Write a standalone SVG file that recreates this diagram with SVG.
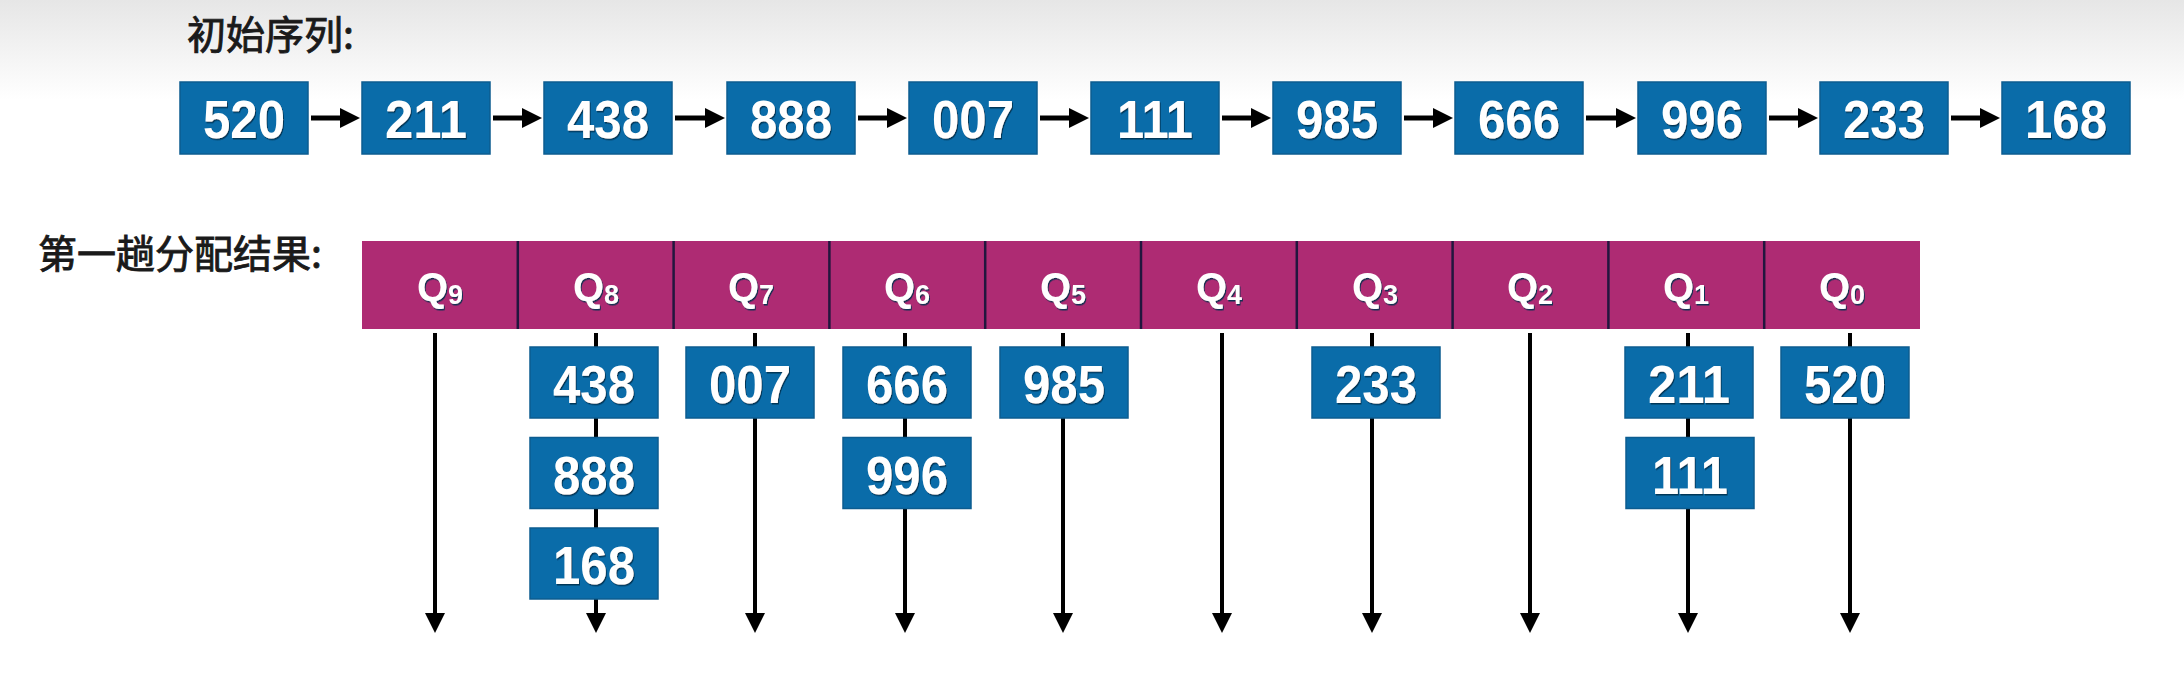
<svg xmlns="http://www.w3.org/2000/svg" width="2184" height="682" viewBox="0 0 2184 682">
<defs>
<linearGradient id="bg" x1="0" y1="0" x2="0" y2="1">
<stop offset="0" stop-color="#e6e6e6"/>
<stop offset="1" stop-color="#ffffff"/>
</linearGradient>
<marker id="ah" markerUnits="userSpaceOnUse" markerWidth="20" markerHeight="20" refX="2" refY="10" orient="auto">
<path d="M0,0 L20,10 L0,20 Z" fill="#000"/>
</marker>
<filter id="sh" x="-10%" y="-10%" width="130%" height="130%">
<feDropShadow dx="1" dy="1.5" stdDeviation="0.6" flood-color="#06304f" flood-opacity="0.9"/>
</filter>
<style>
.lbl{font-family:"Noto Sans CJK SC","Noto Sans",sans-serif;font-size:39px;font-weight:normal;fill:#1a1a1a;stroke:#1a1a1a;stroke-width:0.9;}
.box{fill:#0A6CA9;stroke:#0C5C90;stroke-width:1.5;}
.num{font-family:"Liberation Sans",Arial,sans-serif;font-size:54px;font-weight:bold;fill:#fff;text-anchor:middle;filter:url(#sh);}
.q{fill:#AE2B73;}
.div{stroke:#22163e;stroke-width:2.5;}
.ql{font-family:"Liberation Sans",Arial,sans-serif;font-size:40px;font-weight:bold;fill:#fff;text-anchor:middle;filter:url(#sh);}
.sub{font-size:27px;}
.hc{stroke:#000;stroke-width:5;fill:none;marker-end:url(#ah);}
.vc{stroke:#000;stroke-width:4;fill:none;marker-end:url(#ah);}
</style>
</defs>
<rect x="0" y="0" width="2184" height="682" fill="#fff"/>
<rect x="0" y="0" width="2184" height="100" fill="url(#bg)"/>

<text id="title1" class="lbl" x="187" y="49">初始序列:</text>
<text id="title2" class="lbl" x="38" y="268">第一趟分配结果:</text>

<g id="connectors">
<line class="hc" x1="311" y1="118" x2="342" y2="118"/>
<line class="hc" x1="493" y1="118" x2="524" y2="118"/>
<line class="hc" x1="675" y1="118" x2="707" y2="118"/>
<line class="hc" x1="858" y1="118" x2="889" y2="118"/>
<line class="hc" x1="1040" y1="118" x2="1071" y2="118"/>
<line class="hc" x1="1222" y1="118" x2="1253" y2="118"/>
<line class="hc" x1="1404" y1="118" x2="1435" y2="118"/>
<line class="hc" x1="1586" y1="118" x2="1618" y2="118"/>
<line class="hc" x1="1769" y1="118" x2="1800" y2="118"/>
<line class="hc" x1="1951" y1="118" x2="1982" y2="118"/>
<line class="vc" x1="435" y1="333" x2="435" y2="615"/>
<line class="vc" x1="596" y1="333" x2="596" y2="615"/>
<line class="vc" x1="755" y1="333" x2="755" y2="615"/>
<line class="vc" x1="905" y1="333" x2="905" y2="615"/>
<line class="vc" x1="1063" y1="333" x2="1063" y2="615"/>
<line class="vc" x1="1222" y1="333" x2="1222" y2="615"/>
<line class="vc" x1="1372" y1="333" x2="1372" y2="615"/>
<line class="vc" x1="1530" y1="333" x2="1530" y2="615"/>
<line class="vc" x1="1688" y1="333" x2="1688" y2="615"/>
<line class="vc" x1="1850" y1="333" x2="1850" y2="615"/>
</g>

<g id="seq">
<g id="s520"><rect class="box" x="180" y="82" width="128" height="72"/><text class="num" x="244" y="138" textLength="82" lengthAdjust="spacingAndGlyphs">520</text></g>
<g id="s211"><rect class="box" x="362" y="82" width="128" height="72"/><text class="num" x="426" y="138" textLength="82" lengthAdjust="spacingAndGlyphs">211</text></g>
<g id="s438"><rect class="box" x="544" y="82" width="128" height="72"/><text class="num" x="608" y="138" textLength="82" lengthAdjust="spacingAndGlyphs">438</text></g>
<g id="s888"><rect class="box" x="727" y="82" width="128" height="72"/><text class="num" x="791" y="138" textLength="82" lengthAdjust="spacingAndGlyphs">888</text></g>
<g id="s007"><rect class="box" x="909" y="82" width="128" height="72"/><text class="num" x="973" y="138" textLength="82" lengthAdjust="spacingAndGlyphs">007</text></g>
<g id="s111"><rect class="box" x="1091" y="82" width="128" height="72"/><text class="num" x="1155" y="138" textLength="76" lengthAdjust="spacingAndGlyphs">111</text></g>
<g id="s985"><rect class="box" x="1273" y="82" width="128" height="72"/><text class="num" x="1337" y="138" textLength="82" lengthAdjust="spacingAndGlyphs">985</text></g>
<g id="s666"><rect class="box" x="1455" y="82" width="128" height="72"/><text class="num" x="1519" y="138" textLength="82" lengthAdjust="spacingAndGlyphs">666</text></g>
<g id="s996"><rect class="box" x="1638" y="82" width="128" height="72"/><text class="num" x="1702" y="138" textLength="82" lengthAdjust="spacingAndGlyphs">996</text></g>
<g id="s233"><rect class="box" x="1820" y="82" width="128" height="72"/><text class="num" x="1884" y="138" textLength="82" lengthAdjust="spacingAndGlyphs">233</text></g>
<g id="s168"><rect class="box" x="2002" y="82" width="128" height="72"/><text class="num" x="2066" y="138" textLength="82" lengthAdjust="spacingAndGlyphs">168</text></g>
</g>

<g id="queues">
<rect class="q" x="362" y="241" width="1558" height="88"/>
<line class="div" x1="517.8" y1="241" x2="517.8" y2="329"/>
<line class="div" x1="673.6" y1="241" x2="673.6" y2="329"/>
<line class="div" x1="829.4" y1="241" x2="829.4" y2="329"/>
<line class="div" x1="985.2" y1="241" x2="985.2" y2="329"/>
<line class="div" x1="1141" y1="241" x2="1141" y2="329"/>
<line class="div" x1="1296.8" y1="241" x2="1296.8" y2="329"/>
<line class="div" x1="1452.6" y1="241" x2="1452.6" y2="329"/>
<line class="div" x1="1608.4" y1="241" x2="1608.4" y2="329"/>
<line class="div" x1="1764.2" y1="241" x2="1764.2" y2="329"/>
<g id="Q9"><text class="ql" x="440" y="301">Q<tspan class="sub" dy="3">9</tspan></text></g>
<g id="Q8"><text class="ql" x="596" y="301">Q<tspan class="sub" dy="3">8</tspan></text></g>
<g id="Q7"><text class="ql" x="751" y="301">Q<tspan class="sub" dy="3">7</tspan></text></g>
<g id="Q6"><text class="ql" x="907" y="301">Q<tspan class="sub" dy="3">6</tspan></text></g>
<g id="Q5"><text class="ql" x="1063" y="301">Q<tspan class="sub" dy="3">5</tspan></text></g>
<g id="Q4"><text class="ql" x="1219" y="301">Q<tspan class="sub" dy="3">4</tspan></text></g>
<g id="Q3"><text class="ql" x="1375" y="301">Q<tspan class="sub" dy="3">3</tspan></text></g>
<g id="Q2"><text class="ql" x="1530" y="301">Q<tspan class="sub" dy="3">2</tspan></text></g>
<g id="Q1"><text class="ql" x="1686" y="301">Q<tspan class="sub" dy="3">1</tspan></text></g>
<g id="Q0"><text class="ql" x="1842" y="301">Q<tspan class="sub" dy="3">0</tspan></text></g>
</g>

<g id="buckets">
<g id="b438"><rect class="box" x="530" y="347" width="128" height="71"/><text class="num" x="594" y="403" textLength="82" lengthAdjust="spacingAndGlyphs">438</text></g>
<g id="b888"><rect class="box" x="530" y="437.5" width="128" height="71"/><text class="num" x="594" y="493.5" textLength="82" lengthAdjust="spacingAndGlyphs">888</text></g>
<g id="b168"><rect class="box" x="530" y="528" width="128" height="71"/><text class="num" x="594" y="584" textLength="82" lengthAdjust="spacingAndGlyphs">168</text></g>
<g id="b007"><rect class="box" x="686" y="347" width="128" height="71"/><text class="num" x="750" y="403" textLength="82" lengthAdjust="spacingAndGlyphs">007</text></g>
<g id="b666"><rect class="box" x="843" y="347" width="128" height="71"/><text class="num" x="907" y="403" textLength="82" lengthAdjust="spacingAndGlyphs">666</text></g>
<g id="b996"><rect class="box" x="843" y="437.5" width="128" height="71"/><text class="num" x="907" y="493.5" textLength="82" lengthAdjust="spacingAndGlyphs">996</text></g>
<g id="b985"><rect class="box" x="1000" y="347" width="128" height="71"/><text class="num" x="1064" y="403" textLength="82" lengthAdjust="spacingAndGlyphs">985</text></g>
<g id="b233"><rect class="box" x="1312" y="347" width="128" height="71"/><text class="num" x="1376" y="403" textLength="82" lengthAdjust="spacingAndGlyphs">233</text></g>
<g id="b211"><rect class="box" x="1625" y="347" width="128" height="71"/><text class="num" x="1689" y="403" textLength="82" lengthAdjust="spacingAndGlyphs">211</text></g>
<g id="b111"><rect class="box" x="1626" y="437.5" width="128" height="71"/><text class="num" x="1690" y="493.5" textLength="76" lengthAdjust="spacingAndGlyphs">111</text></g>
<g id="b520"><rect class="box" x="1781" y="347" width="128" height="71"/><text class="num" x="1845" y="403" textLength="82" lengthAdjust="spacingAndGlyphs">520</text></g>
</g>
</svg>
